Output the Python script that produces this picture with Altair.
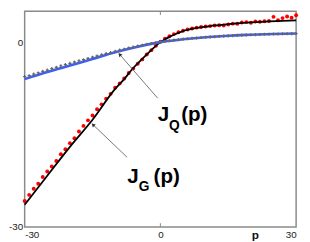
import altair as alt
import pandas as pd

# ---- data ----
p_dots = list(range(-30, 31))
red_vals = [-25.8, -24.8, -23.8, -23.0, -21.9, -21.0, -20.2, -19.3, -18.2, -17.4,
            -16.4, -15.6, -14.5, -13.6, -12.7, -11.9, -10.9, -10.1, -9.2, -8.4,
            -7.4, -6.7, -5.9, -5.0, -4.3, -3.5, -2.8, -2.0, -1.3, -0.6,
            0.05, 0.55, 0.95, 1.3, 1.6, 1.85, 2.05, 2.2, 2.35, 2.45,
            2.55, 2.6, 2.7, 2.75, 2.7, 2.85, 3.0, 2.98, 3.2, 3.25,
            3.15, 3.35, 3.3, 3.4, 3.42, 4.1, 3.55, 3.9, 4.15, 3.95, 4.35]
gray_vals = [-5.6, -5.45, -5.2, -5.0, -4.75, -4.55, -4.3, -4.1, -3.85, -3.65,
             -3.45, -3.25, -3.05, -2.85, -2.65, -2.45, -2.25, -2.05, -1.85, -1.7,
             -1.5, -1.3, -1.15, -0.95, -0.8, -0.65, -0.5, -0.35, -0.22, -0.1,
             0.02, 0.12, 0.22, 0.32, 0.4, 0.48, 0.55, 0.62, 0.68, 0.74,
             0.8, 0.85, 0.9, 0.94, 0.98, 1.02, 1.06, 1.1, 1.13, 1.16,
             1.19, 1.22, 1.24, 1.27, 1.29, 1.31, 1.33, 1.35, 1.37, 1.38, 1.4]

jg_p = [-30, -25, -20, -15, -10, -8, -6, -4, -2, 0, 1, 2, 3, 4, 5, 6, 8, 10, 12, 14, 17, 20, 24, 27, 30]
jg_v = [-26.4, -21.7, -17.0, -12.6, -7.6, -6.0, -4.2, -2.7, -1.3, 0.0, 0.45, 0.85, 1.2, 1.5, 1.8,
        2.0, 2.3, 2.5, 2.7, 2.85, 3.05, 3.2, 3.35, 3.45, 3.55]

jq_p = [-30, -25, -20, -15, -10, -5, 0, 5, 10, 15, 20, 25, 30]
jq_v = [-6.0, -4.85, -3.8, -2.75, -1.65, -0.75, 0.0, 0.45, 0.8, 1.05, 1.2, 1.32, 1.4]

x_ticks = [-30, 0, 30]
y_ticks = [-30, 0]

# annotation arrows (tail -> head, data coords)
arrow_p = [-0.6, -7.35]
arrow_v = [-9.1, -18.7]
arrow_p2 = [-9.0, -14.9]
arrow_v2 = [-2.0, -13.4]
arrow_angle = [319, 313]

# label pieces
big_text = ["J", "(p)", "J", "(p)"]
big_p = [-0.6, 4.6, -7.35, -1.5]
big_v = [-12.8, -12.8, -22.9, -22.9]
sub_text = ["Q", "G"]
sub_p = [1.9, -4.8]
sub_v = [-14.2, -24.2]

# small inner ticks (frame decoration)
tick_p = [0, 0]
tick_v = [-30, 5]
tick_v2 = [-29.4, 4.4]

XDOM = [-30, 30]
YDOM = [-30, 5]

dots = pd.DataFrame({"p": p_dots, "red": red_vals, "gray": gray_vals})
jg = pd.DataFrame({"p": jg_p, "v": jg_v})
jq = pd.DataFrame({"p": jq_p, "v": jq_v})
arrows = pd.DataFrame({"p": arrow_p, "v": arrow_v, "p2": arrow_p2, "v2": arrow_v2, "ang": arrow_angle})
bigt = pd.DataFrame({"t": big_text, "p": big_p, "v": big_v})
subt = pd.DataFrame({"t": sub_text, "p": sub_p, "v": sub_v})
ticks = pd.DataFrame({"p": tick_p, "v": tick_v, "v2": tick_v2})

FONT = "Liberation Sans"

xs = alt.Scale(domain=XDOM, nice=False, zero=False)
ys = alt.Scale(domain=YDOM, nice=False, zero=False)

x_axis = alt.Axis(values=x_ticks, labelExpr="datum.value + ''", grid=False, ticks=False,
                  domain=False, labelFontSize=10, labelColor="#222", labelFont=FONT,
                  labelPadding=3, labelFlush=True,
                  title="p", titleFont=FONT, titleFontSize=12,
                  titleFontWeight="bold", titleColor="#111", titleX=235, titleY=3,
                  titleBaseline="top", titleAnchor="start", titleAlign="center")
y_axis = alt.Axis(values=y_ticks, labelExpr="datum.value + ''", grid=False, ticks=False,
                  domain=False, labelFontSize=10, labelColor="#222", labelFont=FONT,
                  labelPadding=2, title=None)

base_x = alt.X("p:Q", scale=xs, axis=x_axis)
base_y = alt.Y("v:Q", scale=ys, axis=y_axis)

red_layer = alt.Chart(dots).mark_circle(color="#ff0000", size=16, opacity=1).encode(
    x=base_x, y=alt.Y("red:Q", scale=ys, axis=y_axis))
black_layer = alt.Chart(jg).mark_line(color="#000000", strokeWidth=1.8, interpolate="monotone").encode(
    x=base_x, y=base_y)
blue_layer = alt.Chart(jq).mark_line(color="#3f5ff0", strokeWidth=2.6, interpolate="monotone").encode(
    x=base_x, y=base_y)
gray_layer = alt.Chart(dots).mark_point(shape="cross", color="#666666", filled=True, size=10, opacity=1).encode(
    x=base_x, y=alt.Y("gray:Q", scale=ys, axis=y_axis))

arrow_lines = alt.Chart(arrows).mark_rule(color="#555555", strokeWidth=0.8).encode(
    x=base_x, y=base_y, x2="p2:Q", y2="v2:Q")
arrow_heads = alt.Chart(arrows).mark_point(shape="triangle-up", filled=True, color="#333333",
                                           size=18, opacity=1).encode(
    x=alt.X("p2:Q", scale=xs, axis=x_axis), y=alt.Y("v2:Q", scale=ys, axis=y_axis),
    angle=alt.Angle("ang:Q", scale=None))

big_layer = alt.Chart(bigt).mark_text(font=FONT, fontSize=21, fontWeight="bold", align="left",
                                      baseline="alphabetic", color="#000").encode(
    x=base_x, y=base_y, text="t:N")
sub_layer = alt.Chart(subt).mark_text(font=FONT, fontSize=14, fontWeight="bold", align="left",
                                      baseline="alphabetic", color="#000").encode(
    x=base_x, y=base_y, text="t:N")
tick_layer = alt.Chart(ticks).mark_rule(color="#888888", strokeWidth=1).encode(
    x=base_x, y=base_y, y2="v2:Q")

chart = alt.layer(
    tick_layer, red_layer, black_layer, blue_layer, gray_layer,
    arrow_lines, arrow_heads, big_layer, sub_layer
).properties(
    width=277, height=220,
    padding={"left": 0, "top": 0, "right": 0, "bottom": 0},
    background="white"
).configure_view(stroke="#8a8a8a", strokeWidth=1.5)

chart.save("out.html", embed_options={"renderer": "svg", "actions": False})
